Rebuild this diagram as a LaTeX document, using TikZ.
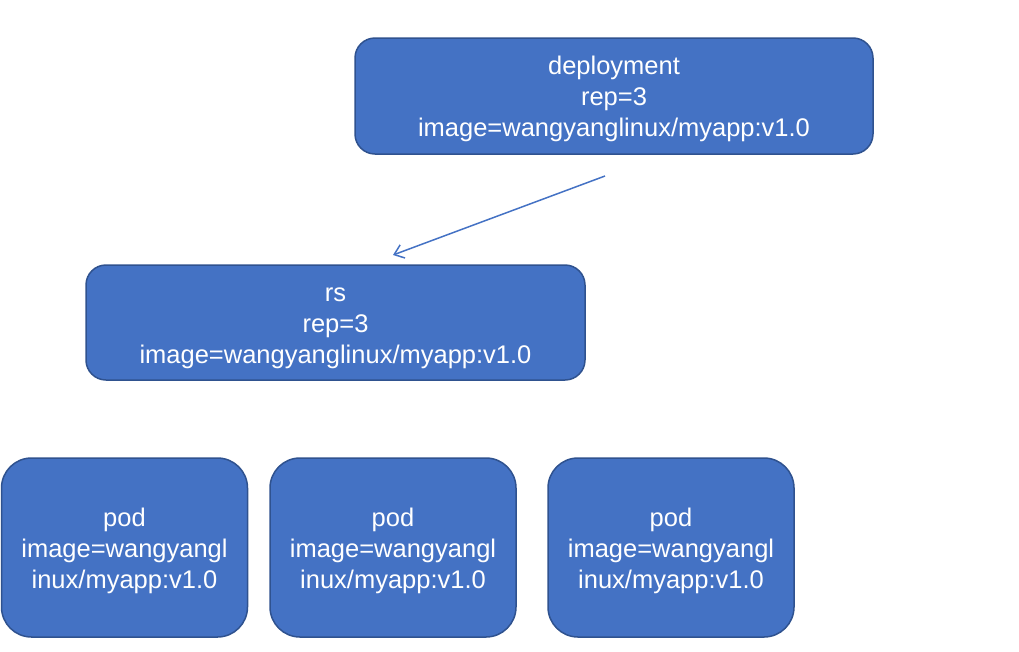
\documentclass[tikz,border=0pt]{standalone}
\usepackage{fontspec}
\setmainfont{Liberation Sans}
\usetikzlibrary{arrows.meta}
\definecolor{boxfill}{HTML}{4472C4}
\definecolor{boxline}{HTML}{2F528F}
\newcommand{\topstrut}{\rule{0pt}{25pt}}
\tikzset{
  bluebox/.style={draw=boxline, line width=1.5pt, fill=boxfill, text=white,
    rounded corners=20pt, align=center, inner sep=0pt,
    font=\fontsize{25.5}{31}\selectfont},
  podbox/.style={bluebox, rounded corners=30pt, minimum width=246pt, minimum height=179pt},
  link/.style={draw=boxfill, line width=1.5pt, -{Straight Barb[length=9pt,width=14pt]}}
}
\begin{document}
\begin{tikzpicture}[x=1pt,y=-1pt]
\useasboundingbox (0,0) rectangle (1019,651);
\node[bluebox, minimum width=518pt, minimum height=116pt] (dep) at (614,96) {\topstrut deployment\\rep=3\\image=wangyanglinux/myapp:v1.0};
\node[bluebox, minimum width=499pt, minimum height=115pt] (rs) at (335.5,322.5) {\topstrut rs\\rep=3\\image=wangyanglinux/myapp:v1.0};
\node[podbox] (p1) at (124.5,547.5) {\topstrut pod\\image=wangyangl\\inux/myapp:v1.0};
\node[podbox] (p2) at (393,547.5) {\topstrut pod\\image=wangyangl\\inux/myapp:v1.0};
\node[podbox] (p3) at (671,547.5) {\topstrut pod\\image=wangyangl\\inux/myapp:v1.0};
\coordinate (a1) at (605,176);
\coordinate (a2) at (393,255);
\draw[link] (a1) -- (a2);
\end{tikzpicture}
\end{document}
